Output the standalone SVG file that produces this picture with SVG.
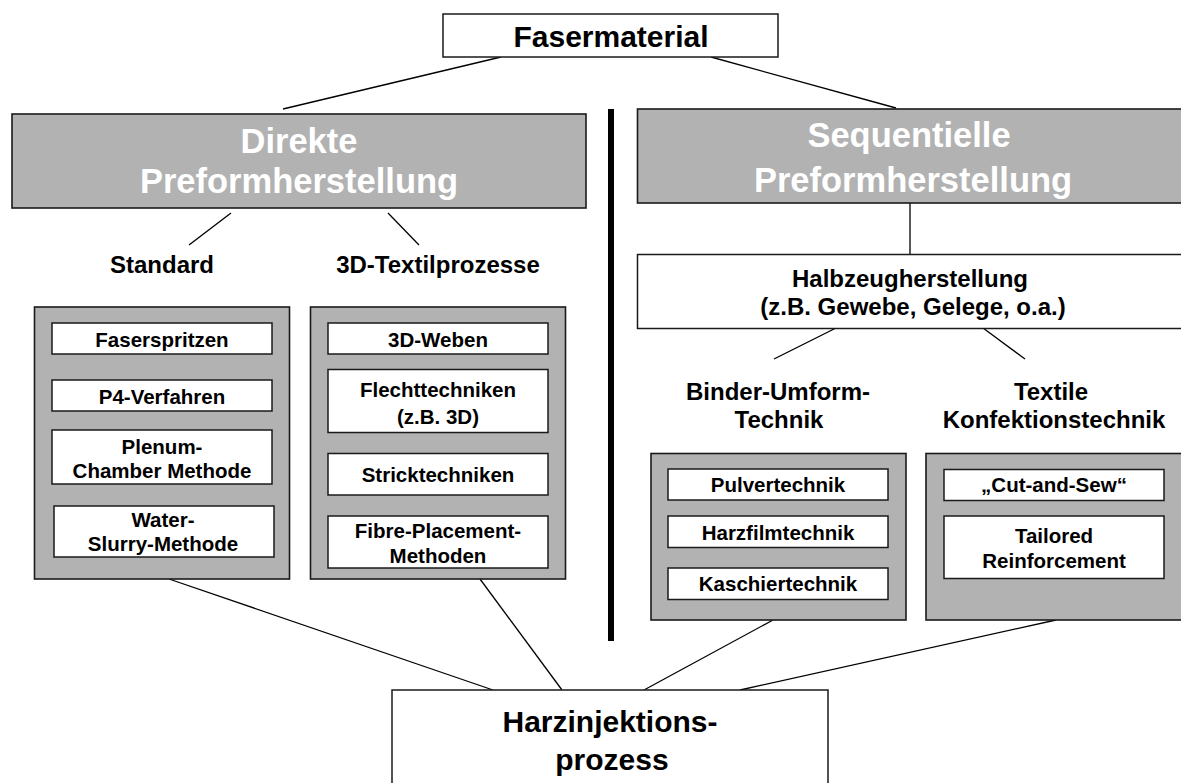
<svg xmlns="http://www.w3.org/2000/svg" width="1181" height="783" viewBox="0 0 1181 783">
<style>
text{font-family:"Liberation Sans",Arial,sans-serif;font-weight:bold;text-anchor:middle;fill:#000}
.w{fill:#fff;stroke:#1a1a1a;stroke-width:1.5}
.g{fill:#b2b2b2;stroke:#1a1a1a;stroke-width:1.6}
.big{font-size:34.5px;fill:#fff}
.h{font-size:30px}
.lab{font-size:24px}
.mid{font-size:24px}
.in{font-size:20.5px}
.c{stroke:#000;stroke-width:1.3;fill:none}
</style>
<rect width="1181" height="783" fill="#fff"/>
<g id="connectors">
<line class="c" x1="501" y1="57" x2="283" y2="109"/>
<line class="c" x1="711" y1="57" x2="896" y2="108"/>
<line class="c" x1="231" y1="213" x2="189" y2="245"/>
<line class="c" x1="388" y1="213" x2="419" y2="245"/>
<line class="c" x1="910" y1="203" x2="910" y2="254"/>
<line class="c" x1="836" y1="328" x2="774" y2="359"/>
<line class="c" x1="983" y1="328" x2="1025" y2="359"/>
<line class="c" x1="169" y1="579" x2="493" y2="690"/>
<line class="c" x1="480" y1="579" x2="562" y2="690"/>
<line class="c" x1="773" y1="620" x2="644" y2="690"/>
<line class="c" x1="1056" y1="620" x2="740" y2="690"/>
</g>
<g id="divider">
<rect x="608" y="109" width="6" height="532" fill="#000"/>
</g>
<g id="fasermaterial">
<rect class="w" x="443" y="14" width="335" height="43"/>
<text class="h" x="611" y="46.5">Fasermaterial</text>
</g>
<g id="direkte">
<rect class="g" x="12" y="114" width="574" height="94"/>
<text class="big" x="299" y="153">Direkte</text>
<text class="big" x="299" y="193">Preformherstellung</text>
</g>
<g id="sequentielle">
<rect class="g" x="637.5" y="109" width="560" height="94"/>
<text class="big" x="909" y="147">Sequentielle</text>
<text class="big" x="913" y="192">Preformherstellung</text>
</g>
<g id="halbzeug">
<rect class="w" x="637.5" y="254.5" width="560" height="74"/>
<text class="mid" x="910" y="287">Halbzeugherstellung</text>
<text class="mid" x="913" y="315">(z.B. Gewebe, Gelege, o.a.)</text>
</g>
<g id="standard-label"><text class="lab" x="162" y="273">Standard</text></g>
<g id="textil3d-label"><text class="lab" x="438" y="273">3D-Textilprozesse</text></g>
<g id="binder-label">
<text class="lab" x="778" y="400">Binder-Umform-</text>
<text class="lab" x="779" y="428">Technik</text>
</g>
<g id="textile-label">
<text class="lab" x="1051" y="400">Textile</text>
<text class="lab" x="1054" y="428">Konfektionstechnik</text>
</g>
<g id="standard-group">
<rect class="g" x="34.5" y="307" width="255" height="272"/>
<g id="faserspritzen"><rect class="w" x="52" y="323" width="220" height="31"/><text class="in" x="162" y="346.5">Faserspritzen</text></g>
<g id="p4"><rect class="w" x="52" y="380" width="220" height="31"/><text class="in" x="162" y="404">P4-Verfahren</text></g>
<g id="plenum"><rect class="w" x="52" y="430" width="220" height="54"/><text class="in" x="162" y="453.5">Plenum-</text><text class="in" x="162" y="477.5">Chamber Methode</text></g>
<g id="water"><rect class="w" x="54" y="506" width="220" height="51"/><text class="in" x="163" y="527">Water-</text><text class="in" x="163" y="551">Slurry-Methode</text></g>
</g>
<g id="textil3d-group">
<rect class="g" x="310.5" y="307" width="255" height="272"/>
<g id="weben"><rect class="w" x="328" y="323" width="220" height="31"/><text class="in" x="438" y="346.5">3D-Weben</text></g>
<g id="flecht"><rect class="w" x="328" y="369.5" width="220" height="63"/><text class="in" x="438" y="397">Flechttechniken</text><text class="in" x="438" y="423.5">(z.B. 3D)</text></g>
<g id="strick"><rect class="w" x="328" y="453.5" width="220" height="41.5"/><text class="in" x="438" y="481.5">Stricktechniken</text></g>
<g id="fibre"><rect class="w" x="328" y="516" width="220" height="52"/><text class="in" x="438" y="537.5">Fibre-Placement-</text><text class="in" x="438" y="562.5">Methoden</text></g>
</g>
<g id="binder-group">
<rect class="g" x="651" y="453.5" width="255" height="166.5"/>
<g id="pulver"><rect class="w" x="668" y="469" width="220" height="31"/><text class="in" x="778" y="492">Pulvertechnik</text></g>
<g id="harzfilm"><rect class="w" x="668" y="516" width="220" height="31.5"/><text class="in" x="778" y="539.5">Harzfilmtechnik</text></g>
<g id="kaschier"><rect class="w" x="668" y="568" width="220" height="31.5"/><text class="in" x="778" y="591">Kaschiertechnik</text></g>
</g>
<g id="textile-group">
<rect class="g" x="926" y="453.5" width="270" height="166.5"/>
<g id="cutsew"><rect class="w" x="944" y="469.5" width="220" height="31"/><text class="in" x="1054" y="492">„Cut-and-Sew“</text></g>
<g id="tailored"><rect class="w" x="944" y="516" width="220" height="62.5"/><text class="in" x="1054" y="543">Tailored</text><text class="in" x="1054" y="567.5">Reinforcement</text></g>
</g>
<g id="harz">
<rect class="w" x="392" y="690" width="436" height="110"/>
<text class="h" x="610" y="731.5">Harzinjektions-</text>
<text class="h" x="612" y="770">prozess</text>
</g>
</svg>
